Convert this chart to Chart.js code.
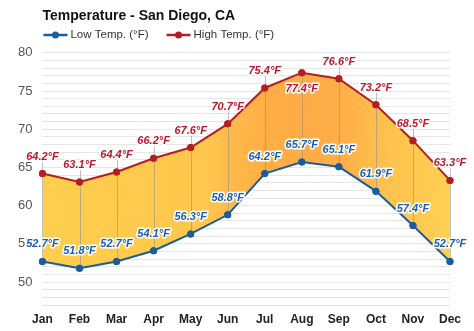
<!DOCTYPE html>
<html lang="en">
<head>
    <meta charset="UTF-8">
    <title>Temperature - San Diego, CA</title>
    <script src="https://cdn.jsdelivr.net/npm/chart.js@4.4.0/dist/chart.umd.min.js"></script>
    <style>
        body { margin: 0; background: #fff; }
    </style>
</head>
<body>
    <canvas id="myChart" width="474" height="331"></canvas>

    <script>
        'use strict';

        // data
        const months = ['Jan', 'Feb', 'Mar', 'Apr', 'May', 'Jun', 'Jul', 'Aug', 'Sep', 'Oct', 'Nov', 'Dec'];
        const lowTemps = [52.7, 51.8, 52.7, 54.1, 56.3, 58.8, 64.2, 65.7, 65.1, 61.9, 57.4, 52.7];
        const highTemps = [64.2, 63.1, 64.4, 66.2, 67.6, 70.7, 75.4, 77.4, 76.6, 73.2, 68.5, 63.3];
        const yTicks = [50, 55, 60, 65, 70, 75, 80];
        // which high labels sit under their point
        const highBelow = [false, false, false, false, false, false, false, true, false, false, false, false];

        const RED = '#b71c22';
        const BLUE = '#1b5c9e';
        const FONT = '"Liberation Sans", Arial, sans-serif';

        Chart.defaults.font.family = FONT;

        function fillGradient(context) {
            const chart = context.chart;
            const area = chart.chartArea;
            if (!area) return '#ffc040';
            const g = chart.ctx.createLinearGradient(area.left, 0, area.right, 0);
            g.addColorStop(0, 'rgba(255,203,64,0.93)');
            g.addColorStop(0.40, 'rgba(255,195,64,0.93)');
            g.addColorStop(0.47, 'rgba(255,180,60,0.93)');
            g.addColorStop(0.55, 'rgba(255,168,56,0.93)');
            g.addColorStop(0.65, 'rgba(255,166,56,0.93)');
            g.addColorStop(0.74, 'rgba(255,170,58,0.93)');
            g.addColorStop(0.85, 'rgba(255,190,64,0.93)');
            g.addColorStop(1, 'rgba(255,205,70,0.93)');
            return g;
        }

        // legend drawn by hand: line with a dot, then the label
        const lineLegend = {
            id: 'lineLegend',
            afterDraw(chart) {
                const ctx = chart.ctx;
                const y = 35;
                let x = chart.chartArea.left + 1;
                ctx.save();
                ctx.font = '11.5px ' + FONT;
                ctx.textBaseline = 'middle';
                chart.data.datasets.forEach(ds => {
                    ctx.strokeStyle = ds.borderColor;
                    ctx.fillStyle = ds.borderColor;
                    ctx.lineWidth = 2.5;
                    ctx.beginPath();
                    ctx.moveTo(x, y);
                    ctx.lineTo(x + 24, y);
                    ctx.stroke();
                    ctx.beginPath();
                    ctx.arc(x + 12, y, 3.5, 0, Math.PI * 2);
                    ctx.fill();
                    ctx.fillStyle = '#333';
                    ctx.fillText(ds.label, x + 27, y);
                    x += 27 + ctx.measureText(ds.label).width + 18;
                });
                ctx.restore();
            }
        };

        // value labels with grey leader lines
        const valueLabels = {
            id: 'valueLabels',
            afterDatasetsDraw(chart) {
                const ctx = chart.ctx;
                const lowMeta = chart.getDatasetMeta(0);
                const highMeta = chart.getDatasetMeta(1);
                ctx.save();

                // leader lines first
                ctx.strokeStyle = 'rgba(140,140,140,0.55)';
                ctx.lineWidth = 1;
                highMeta.data.forEach((pt, i) => {
                    const lowPt = lowMeta.data[i];
                    const top = highBelow[i] ? pt.y : pt.y - 12;
                    ctx.beginPath();
                    ctx.moveTo(Math.round(pt.x) + 0.5, top);
                    ctx.lineTo(Math.round(pt.x) + 0.5, lowPt.y);
                    ctx.stroke();
                });

                // redraw points over the lines
                [lowMeta, highMeta].forEach((meta, d) => {
                    ctx.fillStyle = d === 0 ? BLUE : RED;
                    meta.data.forEach(pt => {
                        ctx.beginPath();
                        ctx.arc(pt.x, pt.y, 3.5, 0, Math.PI * 2);
                        ctx.fill();
                    });
                });

                ctx.font = 'italic bold 11px ' + FONT;
                ctx.textAlign = 'center';
                ctx.textBaseline = 'middle';
                ctx.lineJoin = 'round';
                ctx.lineWidth = 3;
                ctx.strokeStyle = '#fff';

                highMeta.data.forEach((pt, i) => {
                    const txt = highTemps[i].toFixed(1) + '°F';
                    const y = highBelow[i] ? pt.y + 16 : pt.y - 17;
                    ctx.strokeText(txt, pt.x, y);
                    ctx.fillStyle = '#c0152a';
                    ctx.fillText(txt, pt.x, y);
                });
                lowMeta.data.forEach((pt, i) => {
                    const txt = lowTemps[i].toFixed(1) + '°F';
                    const y = pt.y - 17;
                    ctx.strokeText(txt, pt.x, y);
                    ctx.fillStyle = '#1d5eb0';
                    ctx.fillText(txt, pt.x, y);
                });
                ctx.restore();
            }
        };

        const ctx = document.getElementById('myChart').getContext('2d');
        const myChart = new Chart(ctx, {
            type: 'line',
            data: {
                labels: months,
                datasets: [{
                    label: 'Low Temp. (°F)',
                    data: lowTemps,
                    borderColor: BLUE,
                    backgroundColor: BLUE,
                    borderWidth: 2,
                    pointRadius: 3.5,
                    pointBackgroundColor: BLUE,
                    pointBorderWidth: 0,
                    tension: 0,
                    fill: false
                }, {
                    label: 'High Temp. (°F)',
                    data: highTemps,
                    borderColor: RED,
                    backgroundColor: fillGradient,
                    borderWidth: 2,
                    pointRadius: 3.5,
                    pointBackgroundColor: RED,
                    pointBorderWidth: 0,
                    tension: 0,
                    fill: '-1'
                }]
            },
            options: {
                responsive: false,
                animation: false,
                layout: {
                    padding: { left: 8, right: 24, top: 8, bottom: 2 }
                },
                plugins: {
                    title: {
                        display: true,
                        text: 'Temperature - San Diego, CA',
                        align: 'start',
                        fullSize: false,
                        color: '#111',
                        font: { size: 14, weight: 'bold' },
                        // room left under the title for the hand drawn legend
                        padding: { top: 0, bottom: 28 }
                    },
                    legend: { display: false },
                    tooltip: { enabled: false }
                },
                scales: {
                    x: {
                        offset: false,
                        grid: { display: false, drawTicks: false },
                        border: { display: false },
                        ticks: {
                            color: '#222',
                            font: { size: 12, weight: 'bold' },
                            padding: 7
                        },
                        afterFit(scale) {
                            scale.height = 24;
                        }
                    },
                    y: {
                        min: 47,
                        max: 80,
                        grid: { color: '#e6e6e6', drawTicks: false },
                        border: { display: false },
                        ticks: {
                            stepSize: 1,
                            autoSkip: false,
                            color: '#555',
                            font: { size: 13 },
                            padding: 10,
                            callback: v => yTicks.includes(v) ? v : ''
                        }
                    }
                }
            },
            plugins: [valueLabels, lineLegend]
        });
    </script>
</body>
</html>
